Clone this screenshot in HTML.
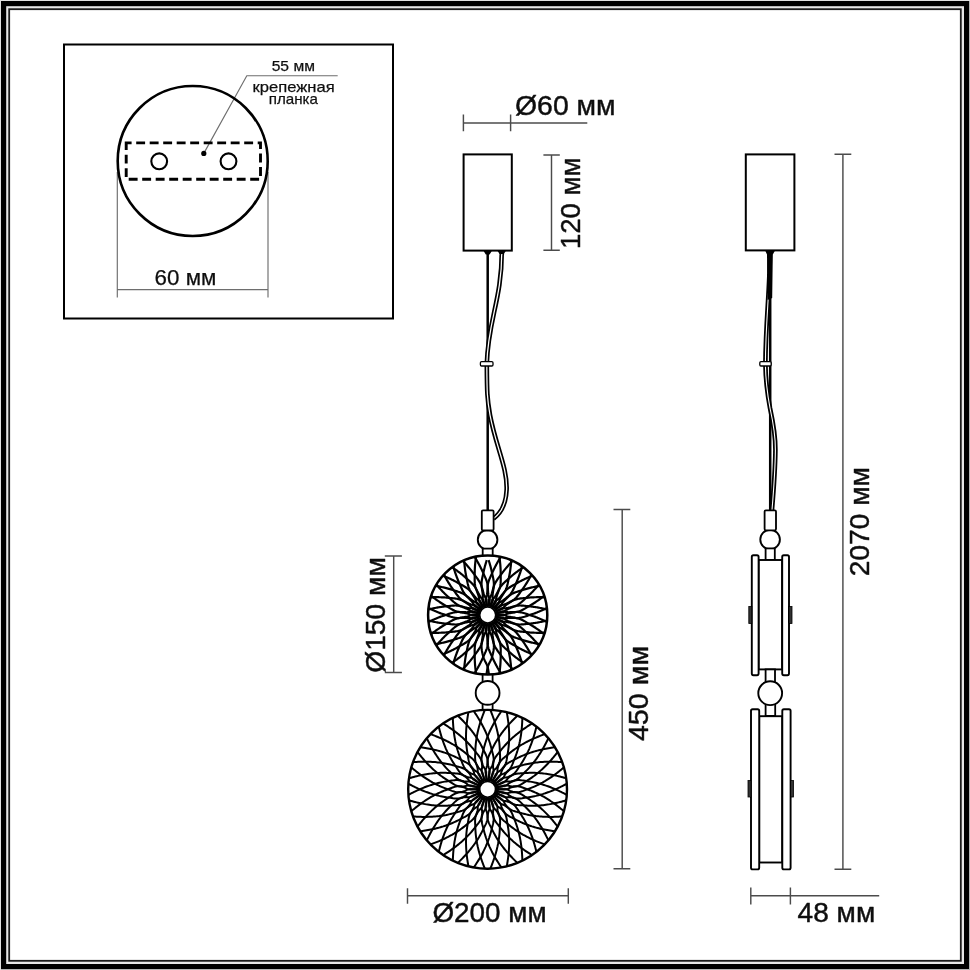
<!DOCTYPE html>
<html><head><meta charset="utf-8"><title>Dimensions</title>
<style>
html,body{margin:0;padding:0;background:#fff;}
body{width:970px;height:970px;overflow:hidden;}
svg{display:block;}
text{font-family:"Liberation Sans",sans-serif;fill:#111;stroke:#111;stroke-width:0.45px;stroke-linejoin:round;}
.sm{stroke-width:0.25px;}
</style></head><body>
<svg width="970" height="970" viewBox="0 0 970 970">
<defs><filter id="soft" x="0" y="0" width="970" height="970" filterUnits="userSpaceOnUse"><feGaussianBlur stdDeviation="0.5"/></filter></defs>
<g filter="url(#soft)">
<rect x="-5" y="-5" width="980" height="980" fill="#b4b4b4"/>
<rect x="-5" y="-5" width="975" height="6" fill="#e2e2e2"/>
<rect x="-5" y="-5" width="6" height="975" fill="#e2e2e2"/>
<rect x="1" y="1" width="968" height="968" fill="#000"/>
<rect x="6.2" y="6.2" width="957.8" height="957.8" fill="#e8e8e8"/>
<rect x="9.2" y="9.2" width="951.6" height="951.6" fill="#fff" stroke="#1a1a1a" stroke-width="1.8"/>
<rect x="64" y="44.5" width="329" height="274" fill="none" stroke="#000" stroke-width="2"/>
<g stroke="#6e6e6e" stroke-width="1.15" fill="none">
<path d="M117.3 172 V297.5 M268 172 V297.5 M117.3 289.6 H268"/>
<path d="M203.8 153.4 L246.8 75.7 H337.7"/>
</g>
<circle cx="192.7" cy="161" r="75" fill="none" stroke="#000" stroke-width="2.6"/>
<rect x="126.2" y="142.9" width="134.3" height="36.3" fill="none" stroke="#000" stroke-width="2.9" stroke-dasharray="8.9 4.6" stroke-dashoffset="3.5"/>
<circle cx="159.2" cy="161.3" r="7.9" fill="#fff" stroke="#000" stroke-width="2.1"/>
<circle cx="228.5" cy="161.3" r="7.9" fill="#fff" stroke="#000" stroke-width="2.1"/>
<circle cx="203.8" cy="153.4" r="2.6" fill="#000"/>
<text class="sm" x="293.3" y="70.8" font-size="14.5" text-anchor="middle" textLength="43.2" lengthAdjust="spacingAndGlyphs">55 мм</text>
<text class="sm" x="293.6" y="91.6" font-size="15" text-anchor="middle" textLength="82.2" lengthAdjust="spacingAndGlyphs">крепежная</text>
<text class="sm" x="293.3" y="103.9" font-size="15" text-anchor="middle" textLength="49.2" lengthAdjust="spacingAndGlyphs">планка</text>
<text class="sm" x="185.5" y="285.4" font-size="21.5" text-anchor="middle" textLength="61.8" lengthAdjust="spacingAndGlyphs">60 мм</text>
<g stroke="#4c4c4c" stroke-width="1.45" fill="none">
<path d="M463.4 122.9 H587.3 M463.4 114.6 V131.2 M510.6 114.6 V131.2"/>
<path d="M551.5 155 V250.2 M543.4 155 H559.8 M543.4 250.2 H559.8"/>
<path d="M393.7 555.9 V672.5 M384.8 555.9 H401.9 M384.8 672.5 H401.9"/>
<path d="M622.2 509.4 V868.8 M613.5 509.4 H630.3 M613.5 868.8 H630.3"/>
<path d="M407.5 895.8 H568.3 M407.5 888.2 V903.8 M568.3 888.2 V903.8"/>
<path d="M842.9 154.2 V869.2 M834.5 154.2 H851.3 M834.5 869.2 H851.3"/>
<path d="M750.6 895.8 H879.2 M750.8 887.6 V904.5 M790.4 887.6 V904.5"/>
</g>
<text x="565.3" y="115.4" font-size="27.5" text-anchor="middle" textLength="100.6" lengthAdjust="spacingAndGlyphs">Ø60 мм</text>
<text x="489.5" y="921.5" font-size="27.5" text-anchor="middle" textLength="114.2" lengthAdjust="spacingAndGlyphs">Ø200 мм</text>
<text x="836.4" y="922.1" font-size="27.5" text-anchor="middle" textLength="77.6" lengthAdjust="spacingAndGlyphs">48 мм</text>
<text transform="translate(580.3 203.3) rotate(-90)" font-size="27.5" text-anchor="middle" textLength="91.6" lengthAdjust="spacingAndGlyphs">120 мм</text>
<text transform="translate(385.2 615) rotate(-90)" font-size="27.5" text-anchor="middle" textLength="115.6" lengthAdjust="spacingAndGlyphs">Ø150 мм</text>
<text transform="translate(648 693.5) rotate(-90)" font-size="27.5" text-anchor="middle" textLength="95.2" lengthAdjust="spacingAndGlyphs">450 мм</text>
<text transform="translate(869.2 521.7) rotate(-90)" font-size="27.5" text-anchor="middle" textLength="109" lengthAdjust="spacingAndGlyphs">2070 мм</text>
<g fill="none" stroke="#000" stroke-linecap="butt">
<path d="M487.7 251 V510" stroke-width="2.5"/>
<path d="M501.8 251 C501.8 300 488 320 486.8 364" stroke-width="4.6"/>
<path d="M486.8 364 C487 392 487 398 490 415 C496 447 507.6 468 506.6 490 C506 505 501 513 493.5 518.6" stroke-width="4.6"/>
</g>
<g fill="none" stroke="#fff">
<path d="M501.8 251 C501.8 300 488 320 486.8 364" stroke-width="1.25"/>
<path d="M486.8 364 C487 392 487 398 490 415 C496 447 507.6 468 506.6 490 C506 505 501 513 493.5 518.6" stroke-width="1.25"/>
</g>
<path d="M483.6 251 h8.2 l-2.2 3.4 h-3.8z M497.6 251 h8.2 l-2 3 h-4.2z" fill="#000"/>
<rect x="480.4" y="361.6" width="12.6" height="4.4" rx="1.2" fill="#fff" stroke="#000" stroke-width="1.3"/>
<rect x="463.6" y="154.4" width="48.2" height="96.2" fill="#fff" stroke="#000" stroke-width="2"/>
<circle cx="487.6" cy="539.7" r="9.8" fill="#fff" stroke="#000" stroke-width="1.9"/>
<rect x="481.8" y="510.3" width="11.8" height="20.2" rx="1.2" fill="#fff" stroke="#000" stroke-width="1.8"/>
<rect x="482.7" y="548.6" width="10" height="7.4" fill="#fff" stroke="#000" stroke-width="1.8"/>
<rect x="482.6" y="674" width="10" height="9" fill="#fff" stroke="#000" stroke-width="1.8"/>
<rect x="482.6" y="703" width="10" height="7" fill="#fff" stroke="#000" stroke-width="1.8"/>
<circle cx="487.6" cy="692.9" r="11.9" fill="#fff" stroke="#000" stroke-width="1.9"/>
<defs><clipPath id="uc"><circle cx="0" cy="0" r="59.60"/></clipPath>
<path id="ua" d="M-1.08 -61.97 L-1.00 -61.08 L-0.85 -60.18 L-0.65 -59.28 L-0.34 -58.39 L0.01 -57.49 L0.32 -56.59 L0.63 -55.69 L0.93 -54.78 L1.23 -53.88 L1.51 -52.97 L1.79 -52.06 L2.07 -51.15 L2.33 -50.24 L2.59 -49.33 L2.84 -48.42 L3.08 -47.50 L3.31 -46.58 L3.54 -45.66 L3.75 -44.74 L3.96 -43.82 L4.16 -42.90 L4.35 -41.98 L4.54 -41.06 L4.75 -40.13 L4.96 -39.20 L5.17 -38.26 L5.38 -37.32 L5.57 -36.39 L5.74 -35.45 L5.89 -34.51 L6.02 -33.58 L6.11 -32.65 L6.17 -31.72 L6.19 -30.80 L6.17 -29.89 L6.11 -28.98 L6.01 -28.08 L5.89 -27.19 L5.74 -26.30 L5.60 -25.41 L5.47 -24.52 L5.34 -23.63 L5.21 -22.74 L5.09 -21.84 L4.98 -20.94 L4.90 -20.04 L4.87 -19.12 L4.87 -18.19 L4.96 -17.23 L5.15 -16.24 L5.00 -15.34 L4.74 -14.48 L4.47 -13.62 L4.20 -12.76 L3.92 -11.91 L3.63 -11.05 L3.35 -10.20 L3.07 -9.35 L2.79 -8.49"/>
<path id="ub" d="M1.08 -61.97 L1.00 -61.08 L0.85 -60.18 L0.65 -59.28 L0.34 -58.39 L-0.01 -57.49 L-0.32 -56.59 L-0.63 -55.69 L-0.93 -54.78 L-1.23 -53.88 L-1.51 -52.97 L-1.79 -52.06 L-2.07 -51.15 L-2.33 -50.24 L-2.59 -49.33 L-2.84 -48.42 L-3.08 -47.50 L-3.31 -46.58 L-3.54 -45.66 L-3.75 -44.74 L-3.96 -43.82 L-4.16 -42.90 L-4.35 -41.98 L-4.54 -41.06 L-4.75 -40.13 L-4.96 -39.20 L-5.17 -38.26 L-5.38 -37.32 L-5.57 -36.39 L-5.74 -35.45 L-5.89 -34.51 L-6.02 -33.58 L-6.11 -32.65 L-6.17 -31.72 L-6.19 -30.80 L-6.17 -29.89 L-6.11 -28.98 L-6.01 -28.08 L-5.89 -27.19 L-5.74 -26.30 L-5.60 -25.41 L-5.47 -24.52 L-5.34 -23.63 L-5.21 -22.74 L-5.09 -21.84 L-4.98 -20.94 L-4.90 -20.04 L-4.87 -19.12 L-4.87 -18.19 L-4.96 -17.23 L-5.15 -16.24 L-5.00 -15.34 L-4.74 -14.48 L-4.47 -13.62 L-4.20 -12.76 L-3.92 -11.91 L-3.63 -11.05 L-3.35 -10.20 L-3.07 -9.35 L-2.79 -8.49"/></defs>
<g transform="translate(487.70 615.00)">
<circle r="59.60" fill="#fff" stroke="none"/>
<g clip-path="url(#uc)" fill="none" stroke="#000" stroke-width="2.20" stroke-linejoin="round">
<path d="M0.93 -54.78 L1.23 -53.88 L1.51 -52.97 L1.79 -52.06 L2.07 -51.15 L2.33 -50.24 L2.59 -49.33 L2.84 -48.42 L3.08 -47.50 L3.31 -46.58 L3.54 -45.66 L3.75 -44.74 L3.96 -43.82 L4.16 -42.90 L4.35 -41.98 L4.54 -41.06 L4.75 -40.13 L4.96 -39.20 L5.17 -38.26 L5.38 -37.32 L5.57 -36.39 L5.74 -35.45 L5.89 -34.51 L6.02 -33.58 L6.11 -32.65 L6.17 -31.72 L6.19 -30.80 L6.17 -29.89 L6.11 -28.98 L6.01 -28.08 L5.89 -27.19 L5.74 -26.30 L5.60 -25.41 L5.47 -24.52 L5.34 -23.63 L5.21 -22.74 L5.09 -21.84 L4.98 -20.94 L4.90 -20.04 L4.87 -19.12 L4.87 -18.19 L4.96 -17.23 L5.15 -16.24 L5.00 -15.34 L4.74 -14.48 L4.47 -13.62 L4.20 -12.76 L3.92 -11.91 L3.63 -11.05 L3.35 -10.20 L3.07 -9.35 L2.79 -8.49"/><path d="M-0.93 -54.78 L-1.23 -53.88 L-1.51 -52.97 L-1.79 -52.06 L-2.07 -51.15 L-2.33 -50.24 L-2.59 -49.33 L-2.84 -48.42 L-3.08 -47.50 L-3.31 -46.58 L-3.54 -45.66 L-3.75 -44.74 L-3.96 -43.82 L-4.16 -42.90 L-4.35 -41.98 L-4.54 -41.06 L-4.75 -40.13 L-4.96 -39.20 L-5.17 -38.26 L-5.38 -37.32 L-5.57 -36.39 L-5.74 -35.45 L-5.89 -34.51 L-6.02 -33.58 L-6.11 -32.65 L-6.17 -31.72 L-6.19 -30.80 L-6.17 -29.89 L-6.11 -28.98 L-6.01 -28.08 L-5.89 -27.19 L-5.74 -26.30 L-5.60 -25.41 L-5.47 -24.52 L-5.34 -23.63 L-5.21 -22.74 L-5.09 -21.84 L-4.98 -20.94 L-4.90 -20.04 L-4.87 -19.12 L-4.87 -18.19 L-4.96 -17.23 L-5.15 -16.24 L-5.00 -15.34 L-4.74 -14.48 L-4.47 -13.62 L-4.20 -12.76 L-3.92 -11.91 L-3.63 -11.05 L-3.35 -10.20 L-3.07 -9.35 L-2.79 -8.49"/>
<use href="#ua" transform="rotate(12)"/><use href="#ub" transform="rotate(12)"/>
<use href="#ua" transform="rotate(24)"/><use href="#ub" transform="rotate(24)"/>
<use href="#ua" transform="rotate(36)"/><use href="#ub" transform="rotate(36)"/>
<use href="#ua" transform="rotate(48)"/><use href="#ub" transform="rotate(48)"/>
<use href="#ua" transform="rotate(60)"/><use href="#ub" transform="rotate(60)"/>
<use href="#ua" transform="rotate(72)"/><use href="#ub" transform="rotate(72)"/>
<use href="#ua" transform="rotate(84)"/><use href="#ub" transform="rotate(84)"/>
<use href="#ua" transform="rotate(96)"/><use href="#ub" transform="rotate(96)"/>
<use href="#ua" transform="rotate(108)"/><use href="#ub" transform="rotate(108)"/>
<use href="#ua" transform="rotate(120)"/><use href="#ub" transform="rotate(120)"/>
<use href="#ua" transform="rotate(132)"/><use href="#ub" transform="rotate(132)"/>
<use href="#ua" transform="rotate(144)"/><use href="#ub" transform="rotate(144)"/>
<use href="#ua" transform="rotate(156)"/><use href="#ub" transform="rotate(156)"/>
<use href="#ua" transform="rotate(168)"/><use href="#ub" transform="rotate(168)"/>
<g transform="rotate(180)"><path d="M-1.62 -61.96 L-1.48 -61.07 L-1.34 -60.17 L-1.20 -59.27 L-1.06 -58.38 L-0.92 -57.48 L-0.79 -56.58 L-0.65 -55.69 L-0.51 -54.79 L-0.35 -53.89 L-0.18 -52.99 L0.01 -52.09 L0.27 -51.19 L0.60 -50.29 L1.00 -49.39 L1.44 -48.48 L1.90 -47.56 L2.37 -46.64 L2.84 -45.71 L3.28 -44.78 L3.68 -43.85 L4.04 -42.91 L4.34 -41.98 L4.59 -41.05 L4.84 -40.12 L5.07 -39.18 L5.30 -38.24 L5.50 -37.31 L5.69 -36.37 L5.85 -35.43 L5.98 -34.50 L6.09 -33.57 L6.16 -32.64 L6.20 -31.71 L6.21 -30.80 L6.18 -29.89 L6.11 -28.98 L6.01 -28.08 L5.89 -27.19 L5.74 -26.30 L5.60 -25.41 L5.47 -24.52 L5.34 -23.63 L5.21 -22.74 L5.09 -21.84 L4.98 -20.94 L4.90 -20.04 L4.87 -19.12 L4.87 -18.19 L4.96 -17.23 L5.15 -16.24 L5.00 -15.34 L4.74 -14.48 L4.47 -13.62 L4.20 -12.76 L3.92 -11.91 L3.63 -11.05 L3.35 -10.20 L3.07 -9.35 L2.79 -8.49"/><path d="M1.62 -61.96 L1.48 -61.07 L1.34 -60.17 L1.20 -59.27 L1.06 -58.38 L0.92 -57.48 L0.79 -56.58 L0.65 -55.69 L0.51 -54.79 L0.35 -53.89 L0.18 -52.99 L-0.01 -52.09 L-0.27 -51.19 L-0.60 -50.29 L-1.00 -49.39 L-1.44 -48.48 L-1.90 -47.56 L-2.37 -46.64 L-2.84 -45.71 L-3.28 -44.78 L-3.68 -43.85 L-4.04 -42.91 L-4.34 -41.98 L-4.59 -41.05 L-4.84 -40.12 L-5.07 -39.18 L-5.30 -38.24 L-5.50 -37.31 L-5.69 -36.37 L-5.85 -35.43 L-5.98 -34.50 L-6.09 -33.57 L-6.16 -32.64 L-6.20 -31.71 L-6.21 -30.80 L-6.18 -29.89 L-6.11 -28.98 L-6.01 -28.08 L-5.89 -27.19 L-5.74 -26.30 L-5.60 -25.41 L-5.47 -24.52 L-5.34 -23.63 L-5.21 -22.74 L-5.09 -21.84 L-4.98 -20.94 L-4.90 -20.04 L-4.87 -19.12 L-4.87 -18.19 L-4.96 -17.23 L-5.15 -16.24 L-5.00 -15.34 L-4.74 -14.48 L-4.47 -13.62 L-4.20 -12.76 L-3.92 -11.91 L-3.63 -11.05 L-3.35 -10.20 L-3.07 -9.35 L-2.79 -8.49"/></g>
<use href="#ua" transform="rotate(192)"/><use href="#ub" transform="rotate(192)"/>
<use href="#ua" transform="rotate(204)"/><use href="#ub" transform="rotate(204)"/>
<use href="#ua" transform="rotate(216)"/><use href="#ub" transform="rotate(216)"/>
<use href="#ua" transform="rotate(228)"/><use href="#ub" transform="rotate(228)"/>
<use href="#ua" transform="rotate(240)"/><use href="#ub" transform="rotate(240)"/>
<use href="#ua" transform="rotate(252)"/><use href="#ub" transform="rotate(252)"/>
<use href="#ua" transform="rotate(264)"/><use href="#ub" transform="rotate(264)"/>
<use href="#ua" transform="rotate(276)"/><use href="#ub" transform="rotate(276)"/>
<use href="#ua" transform="rotate(288)"/><use href="#ub" transform="rotate(288)"/>
<use href="#ua" transform="rotate(300)"/><use href="#ub" transform="rotate(300)"/>
<use href="#ua" transform="rotate(312)"/><use href="#ub" transform="rotate(312)"/>
<use href="#ua" transform="rotate(324)"/><use href="#ub" transform="rotate(324)"/>
<use href="#ua" transform="rotate(336)"/><use href="#ub" transform="rotate(336)"/>
<use href="#ua" transform="rotate(348)"/><use href="#ub" transform="rotate(348)"/>
</g>
<circle r="9.90" fill="none" stroke="#000" stroke-width="3.00"/>
<circle r="13.90" fill="none" stroke="#000" stroke-opacity="0.50" stroke-width="5.20"/>
<circle r="59.60" fill="none" stroke="#000" stroke-width="2.50"/>
<circle r="8.10" fill="#fff" stroke="#000" stroke-width="1.80"/>
</g>
<defs><clipPath id="lc"><circle cx="0" cy="0" r="79.40"/></clipPath>
<path id="la" d="M-0.00 -86.55 L0.50 -85.24 L1.01 -83.93 L1.51 -82.62 L2.02 -81.30 L2.53 -79.98 L3.04 -78.65 L3.55 -77.33 L4.07 -75.99 L4.58 -74.66 L5.08 -73.32 L5.57 -71.97 L6.05 -70.62 L6.52 -69.27 L6.97 -67.91 L7.40 -66.56 L7.81 -65.19 L8.21 -63.83 L8.59 -62.46 L8.96 -61.09 L9.30 -59.72 L9.63 -58.34 L9.95 -56.97 L10.24 -55.59 L10.52 -54.21 L10.77 -52.82 L11.01 -51.44 L11.23 -50.06 L11.42 -48.67 L11.60 -47.29 L11.75 -45.90 L11.89 -44.52 L12.00 -43.14 L12.10 -41.75 L12.17 -40.37 L12.23 -38.98 L12.27 -37.60 L12.33 -36.20 L12.41 -34.79 L12.48 -33.38 L12.51 -31.97 L12.47 -30.58 L12.36 -29.21 L12.15 -27.88 L11.83 -26.60 L11.40 -25.36 L10.94 -24.13 L10.51 -22.90 L10.17 -21.61 L9.91 -20.29 L9.86 -18.85 L9.89 -17.35 L9.35 -16.15 L8.72 -15.01 L8.08 -13.88 L7.42 -12.75 L6.76 -11.62 L6.11 -10.49 L5.45 -9.36 L4.79 -8.23"/>
<path id="lb" d="M0.00 -86.55 L-0.50 -85.24 L-1.01 -83.93 L-1.51 -82.62 L-2.02 -81.30 L-2.53 -79.98 L-3.04 -78.65 L-3.55 -77.33 L-4.07 -75.99 L-4.58 -74.66 L-5.08 -73.32 L-5.57 -71.97 L-6.05 -70.62 L-6.52 -69.27 L-6.97 -67.91 L-7.40 -66.56 L-7.81 -65.19 L-8.21 -63.83 L-8.59 -62.46 L-8.96 -61.09 L-9.30 -59.72 L-9.63 -58.34 L-9.95 -56.97 L-10.24 -55.59 L-10.52 -54.21 L-10.77 -52.82 L-11.01 -51.44 L-11.23 -50.06 L-11.42 -48.67 L-11.60 -47.29 L-11.75 -45.90 L-11.89 -44.52 L-12.00 -43.14 L-12.10 -41.75 L-12.17 -40.37 L-12.23 -38.98 L-12.27 -37.60 L-12.33 -36.20 L-12.41 -34.79 L-12.48 -33.38 L-12.51 -31.97 L-12.47 -30.58 L-12.36 -29.21 L-12.15 -27.88 L-11.83 -26.60 L-11.40 -25.36 L-10.94 -24.13 L-10.51 -22.90 L-10.17 -21.61 L-9.91 -20.29 L-9.86 -18.85 L-9.89 -17.35 L-9.35 -16.15 L-8.72 -15.01 L-8.08 -13.88 L-7.42 -12.75 L-6.76 -11.62 L-6.11 -10.49 L-5.45 -9.36 L-4.79 -8.23"/></defs>
<g transform="translate(487.60 789.30)">
<circle r="79.40" fill="#fff" stroke="none"/>
<g clip-path="url(#lc)" fill="none" stroke="#000" stroke-width="2.00" stroke-linejoin="round">
<use href="#la" transform="rotate(0)"/><use href="#lb" transform="rotate(0)"/>
<use href="#la" transform="rotate(12)"/><use href="#lb" transform="rotate(12)"/>
<use href="#la" transform="rotate(24)"/><use href="#lb" transform="rotate(24)"/>
<use href="#la" transform="rotate(36)"/><use href="#lb" transform="rotate(36)"/>
<use href="#la" transform="rotate(48)"/><use href="#lb" transform="rotate(48)"/>
<use href="#la" transform="rotate(60)"/><use href="#lb" transform="rotate(60)"/>
<use href="#la" transform="rotate(72)"/><use href="#lb" transform="rotate(72)"/>
<use href="#la" transform="rotate(84)"/><use href="#lb" transform="rotate(84)"/>
<use href="#la" transform="rotate(96)"/><use href="#lb" transform="rotate(96)"/>
<use href="#la" transform="rotate(108)"/><use href="#lb" transform="rotate(108)"/>
<use href="#la" transform="rotate(120)"/><use href="#lb" transform="rotate(120)"/>
<use href="#la" transform="rotate(132)"/><use href="#lb" transform="rotate(132)"/>
<use href="#la" transform="rotate(144)"/><use href="#lb" transform="rotate(144)"/>
<use href="#la" transform="rotate(156)"/><use href="#lb" transform="rotate(156)"/>
<use href="#la" transform="rotate(168)"/><use href="#lb" transform="rotate(168)"/>
<use href="#la" transform="rotate(180)"/><use href="#lb" transform="rotate(180)"/>
<use href="#la" transform="rotate(192)"/><use href="#lb" transform="rotate(192)"/>
<use href="#la" transform="rotate(204)"/><use href="#lb" transform="rotate(204)"/>
<use href="#la" transform="rotate(216)"/><use href="#lb" transform="rotate(216)"/>
<use href="#la" transform="rotate(228)"/><use href="#lb" transform="rotate(228)"/>
<use href="#la" transform="rotate(240)"/><use href="#lb" transform="rotate(240)"/>
<use href="#la" transform="rotate(252)"/><use href="#lb" transform="rotate(252)"/>
<use href="#la" transform="rotate(264)"/><use href="#lb" transform="rotate(264)"/>
<use href="#la" transform="rotate(276)"/><use href="#lb" transform="rotate(276)"/>
<use href="#la" transform="rotate(288)"/><use href="#lb" transform="rotate(288)"/>
<use href="#la" transform="rotate(300)"/><use href="#lb" transform="rotate(300)"/>
<use href="#la" transform="rotate(312)"/><use href="#lb" transform="rotate(312)"/>
<use href="#la" transform="rotate(324)"/><use href="#lb" transform="rotate(324)"/>
<use href="#la" transform="rotate(336)"/><use href="#lb" transform="rotate(336)"/>
<use href="#la" transform="rotate(348)"/><use href="#lb" transform="rotate(348)"/>
</g>
<circle r="9.70" fill="none" stroke="#000" stroke-width="2.80"/>
<circle r="14.50" fill="none" stroke="#000" stroke-opacity="0.20" stroke-width="7.00"/>
<circle r="79.40" fill="none" stroke="#000" stroke-width="2.40"/>
<circle r="8.00" fill="#fff" stroke="#000" stroke-width="1.80"/>
</g>
<g fill="none" stroke="#000">
<path d="M770.2 251 V510" stroke-width="2.5"/>
<path d="M769.9 251 C770 290 765.6 320 765.4 364" stroke-width="4.6"/>
<path d="M765.4 364 C765.6 380 767 392 770 408 C773.5 424 775.6 436 775.4 450 C775.2 470 773.5 492 772 510" stroke-width="4.6"/>
</g>
<g fill="none" stroke="#fff">
<path d="M769.9 251 C770 290 765.6 320 765.4 364" stroke-width="1.1"/>
<path d="M765.4 364 C765.6 380 767 392 770 408 C773.5 424 775.6 436 775.4 450 C775.2 470 773.5 492 772 510" stroke-width="1.1"/>
</g>
<path d="M765.4 251 h9.4 l-2.0 3.4 L772.2 298 L767.6 300 L767.0 254.4z" fill="#000"/>
<rect x="759.8" y="361.6" width="11.4" height="4.4" rx="1.2" fill="#fff" stroke="#000" stroke-width="1.3"/>
<rect x="745.8" y="154.4" width="48.6" height="96" fill="#fff" stroke="#000" stroke-width="2"/>
<circle cx="770.1" cy="539.5" r="9.8" fill="#fff" stroke="#000" stroke-width="1.9"/>
<rect x="764.6" y="510.3" width="11.4" height="20" rx="1.2" fill="#fff" stroke="#000" stroke-width="1.8"/>
<rect x="765.6" y="548.4" width="9.2" height="11.6" fill="#fff" stroke="#000" stroke-width="1.8"/>
<rect x="758.6" y="560" width="23.6" height="109.4" fill="#fff" stroke="#000" stroke-width="1.9"/>
<rect x="751.8" y="555.2" width="6.8" height="120" rx="1.6" fill="#fff" stroke="#000" stroke-width="1.9"/>
<rect x="782.2" y="555.2" width="6.8" height="120" rx="1.6" fill="#fff" stroke="#000" stroke-width="1.9"/>
<rect x="748.8" y="606.5" width="3" height="17" fill="#333" stroke="#000" stroke-width="0.8"/>
<rect x="789" y="606.5" width="3" height="17" fill="#333" stroke="#000" stroke-width="0.8"/>
<rect x="765.6" y="669.4" width="9.4" height="14" fill="#fff" stroke="#000" stroke-width="1.8"/>
<rect x="765.6" y="703" width="9.6" height="13" fill="#fff" stroke="#000" stroke-width="1.8"/>
<circle cx="770.2" cy="693.2" r="11.9" fill="#fff" stroke="#000" stroke-width="1.9"/>
<rect x="759.2" y="716.2" width="23.1" height="146.3" fill="#fff" stroke="#000" stroke-width="1.9"/>
<rect x="751" y="709.2" width="8.2" height="160.2" rx="1.6" fill="#fff" stroke="#000" stroke-width="1.9"/>
<rect x="782.3" y="709.2" width="8.3" height="160.2" rx="1.6" fill="#fff" stroke="#000" stroke-width="1.9"/>
<rect x="748" y="780.5" width="3" height="16.5" fill="#333" stroke="#000" stroke-width="0.8"/>
<rect x="790.6" y="780.5" width="3" height="16.5" fill="#333" stroke="#000" stroke-width="0.8"/>
</g>
</svg>
</body></html>
